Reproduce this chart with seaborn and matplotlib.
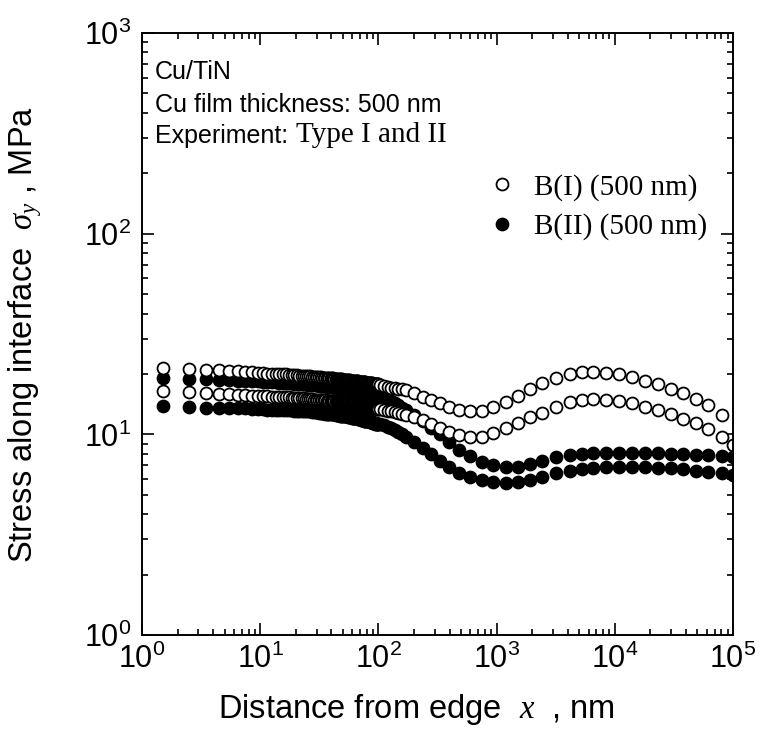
import numpy as np
import pandas as pd
import matplotlib
matplotlib.use("Agg")
import matplotlib.pyplot as plt
import seaborn as sns
from matplotlib.lines import Line2D
from matplotlib.ticker import LogLocator, LogFormatterSciNotation, NullFormatter

# ---------------- data ----------------
# distance from edge x (nm): fine 1 nm grid near the edge
x_fine = [1.5, 2.5, 3.5, 4.5, 5.5, 6.5, 7.5, 8.5, 9.5, 10.5,
          11.5, 12.5, 13.5, 14.5, 15.5, 16.5, 17.5, 18.5, 19.5, 20.5,
          21.5, 22.5, 23.5, 24.5, 25.5, 26.5, 27.5, 28.5, 29.5, 30.5,
          31.5, 32.5, 33.5, 34.5, 35.5, 36.5, 37.5, 38.5, 39.5, 40.5,
          41.5, 42.5, 43.5, 44.5, 45.5, 46.5, 47.5, 48.5, 49.5, 50.5,
          51.5, 52.5, 53.5, 54.5, 55.5, 56.5, 57.5, 58.5, 59.5, 60.5,
          61.5, 62.5, 63.5, 64.5, 65.5, 66.5, 67.5, 68.5, 69.5, 70.5,
          71.5, 72.5, 73.5, 74.5, 75.5, 76.5, 77.5, 78.5, 79.5, 80.5,
          81.5, 82.5, 83.5, 84.5, 85.5, 86.5, 87.5, 88.5, 89.5, 90.5,
          91.5, 92.5, 93.5, 94.5, 95.5, 96.5, 97.5, 98.5, 99.5]
# coarser grid further from the edge
x_far = [104, 112, 120, 129, 138, 148, 159, 171, 200, 238, 279, 332, 396, 481,
         596, 752, 933, 1200, 1520, 1920, 2420, 3160, 4170, 5250, 6610, 8510,
         10960, 14130, 18200, 23400, 30200, 38000, 49000, 61700, 81300, 100000]

# B(I) open circles, upper branch
bI_up_fine = [21.4, 21.2, 21.0, 20.9, 20.8, 20.6, 20.5, 20.4, 20.3, 20.2,
              20.1, 20.1, 20.0, 20.0, 19.9, 19.9, 19.8, 19.8, 19.7, 19.7,
              19.6, 19.6, 19.6, 19.5, 19.5, 19.5, 19.4, 19.4, 19.4, 19.3,
              19.3, 19.3, 19.2, 19.2, 19.2, 19.1, 19.1, 19.1, 19.0, 19.0,
              19.0, 18.9, 18.9, 18.9, 18.9, 18.8, 18.8, 18.8, 18.8, 18.7,
              18.7, 18.7, 18.7, 18.6, 18.6, 18.6, 18.6, 18.5, 18.5, 18.5,
              18.5, 18.5, 18.4, 18.4, 18.4, 18.4, 18.4, 18.3, 18.3, 18.3,
              18.3, 18.3, 18.2, 18.2, 18.2, 18.2, 18.2, 18.1, 18.1, 18.1,
              18.1, 18.1, 18.1, 18.0, 18.0, 18.0, 18.0, 18.0, 17.9, 17.9,
              17.9, 17.9, 17.9, 17.9, 17.8, 17.8, 17.8, 17.8, 17.8]
bI_up_far = [17.6, 17.4, 17.3, 17.1, 17.0, 16.9, 16.8, 16.6, 16.1, 15.3, 14.8,
             14.3, 13.7, 13.2, 13.1, 13.1, 13.7, 14.5, 15.5, 16.8, 18.0, 19.1,
             20.0, 20.4, 20.4, 20.2, 20.0, 19.3, 18.4, 17.8, 16.8, 16.1, 15.0,
             14.0, 12.5]

# B(I) open circles, lower branch
bI_lo_fine = [16.4, 16.2, 16.0, 15.9, 15.8, 15.7, 15.7, 15.6, 15.6, 15.5,
              15.5, 15.4, 15.4, 15.4, 15.3, 15.3, 15.3, 15.2, 15.2, 15.2,
              15.1, 15.1, 15.1, 15.0, 15.0, 15.0, 15.0, 14.9, 14.9, 14.9,
              14.9, 14.8, 14.8, 14.8, 14.8, 14.7, 14.7, 14.7, 14.7, 14.6,
              14.6, 14.6, 14.6, 14.5, 14.5, 14.5, 14.5, 14.4, 14.4, 14.4,
              14.4, 14.4, 14.3, 14.3, 14.3, 14.3, 14.2, 14.2, 14.2, 14.2,
              14.1, 14.1, 14.1, 14.1, 14.0, 14.0, 14.0, 14.0, 14.0, 13.9,
              13.9, 13.9, 13.9, 13.9, 13.8, 13.8, 13.8, 13.8, 13.8, 13.7,
              13.7, 13.7, 13.7, 13.7, 13.6, 13.6, 13.6, 13.6, 13.6, 13.6,
              13.5, 13.5, 13.5, 13.5, 13.5, 13.5, 13.4, 13.4, 13.4]
bI_lo_far = [13.4, 13.3, 13.1, 13.0, 12.9, 12.8, 12.7, 12.5, 12.2, 11.8, 11.3,
             10.7, 10.3, 9.9, 9.7, 9.7, 10.2, 10.7, 11.4, 12.2, 12.8, 13.7,
             14.5, 14.8, 15.0, 14.8, 14.7, 14.3, 13.7, 13.2, 12.6, 11.9, 11.4,
             10.6, 9.7, 8.8]

# B(II) filled circles, upper branch
bII_up_fine = [19.0, 18.9, 18.8, 18.7, 18.6, 18.5, 18.5, 18.4, 18.4, 18.3,
               18.3, 18.2, 18.2, 18.1, 18.1, 18.0, 18.0, 18.0, 17.9, 17.9,
               17.9, 17.8, 17.8, 17.8, 17.7, 17.7, 17.7, 17.6, 17.6, 17.6,
               17.5, 17.5, 17.5, 17.4, 17.4, 17.4, 17.3, 17.3, 17.3, 17.2,
               17.2, 17.2, 17.1, 17.1, 17.1, 17.0, 17.0, 17.0, 16.9, 16.9,
               16.9, 16.8, 16.8, 16.8, 16.7, 16.7, 16.7, 16.6, 16.6, 16.6,
               16.5, 16.5, 16.5, 16.4, 16.4, 16.4, 16.3, 16.3, 16.3, 16.2,
               16.2, 16.2, 16.2, 16.1, 16.1, 16.1, 16.0, 16.0, 16.0, 16.0,
               15.9, 15.9, 15.9, 15.9, 15.8, 15.8, 15.8, 15.8, 15.7, 15.7,
               15.7, 15.7, 15.7, 15.6, 15.6, 15.6, 15.6, 15.6, 15.6]
bII_up_far = [15.6, 15.3, 15.0, 14.7, 14.4, 14.0, 13.6, 13.2, 12.5, 11.6, 10.8,
              10.0, 9.2, 8.4, 7.8, 7.3, 7.0, 6.9, 6.9, 7.1, 7.4, 7.7, 7.9, 8.0,
              8.1, 8.1, 8.1, 8.1, 8.1, 8.1, 8.0, 8.0, 7.9, 7.9, 7.8, 7.7]

# B(II) filled circles, lower branch
bII_lo_fine = [13.8, 13.7, 13.6, 13.6, 13.5, 13.5, 13.5, 13.4, 13.4, 13.4,
               13.3, 13.3, 13.3, 13.3, 13.2, 13.2, 13.2, 13.2, 13.1, 13.1,
               13.1, 13.1, 13.0, 13.0, 13.0, 13.0, 12.9, 12.9, 12.9, 12.9,
               12.8, 12.8, 12.8, 12.8, 12.7, 12.7, 12.7, 12.7, 12.6, 12.6,
               12.6, 12.6, 12.5, 12.5, 12.5, 12.5, 12.4, 12.4, 12.4, 12.4,
               12.3, 12.3, 12.3, 12.3, 12.2, 12.2, 12.2, 12.2, 12.1, 12.1,
               12.1, 12.1, 12.0, 12.0, 12.0, 12.0, 11.9, 11.9, 11.9, 11.9,
               11.8, 11.8, 11.8, 11.8, 11.7, 11.7, 11.7, 11.7, 11.6, 11.6,
               11.6, 11.6, 11.6, 11.5, 11.5, 11.5, 11.5, 11.5, 11.4, 11.4,
               11.4, 11.4, 11.4, 11.3, 11.3, 11.3, 11.3, 11.3, 11.3]
bII_lo_far = [11.3, 11.1, 10.9, 10.7, 10.5, 10.3, 10.0, 9.7, 9.2, 8.6, 8.0,
              7.4, 6.9, 6.4, 6.1, 5.9, 5.8, 5.7, 5.8, 5.9, 6.1, 6.4, 6.6, 6.7,
              6.8, 6.9, 6.9, 6.9, 6.9, 6.8, 6.8, 6.7, 6.6, 6.5, 6.4, 6.3]

legend_labels = ["B(I) (500 nm)", "B(II) (500 nm)"]
note_lines = ["Cu/TiN", "Cu film thickness: 500 nm", "Experiment:"]
note_serif = "Type I and II"
x_ticks = [1e0, 1e1, 1e2, 1e3, 1e4, 1e5]
y_ticks = [1e0, 1e1, 1e2, 1e3]

# ---------------- tables ----------------
def frame(xs, ys):
    return pd.DataFrame({"x": xs, "y": ys})

df_bI_up = frame(x_fine + x_far[:len(bI_up_far)], bI_up_fine + bI_up_far)
df_bI_lo = frame(x_fine + x_far, bI_lo_fine + bI_lo_far)
df_bII_up = frame(x_fine + x_far, bII_up_fine + bII_up_far)
df_bII_lo = frame(x_fine + x_far, bII_lo_fine + bII_lo_far)

# ---------------- style ----------------
sns.set_theme(style="ticks")
plt.rcParams.update({
    "font.family": ["Liberation Sans", "DejaVu Sans"],
    "mathtext.fontset": "custom",
    "mathtext.rm": "Liberation Serif",
    "mathtext.it": "Liberation Serif:italic",
    "mathtext.bf": "Liberation Serif:bold",
    "axes.linewidth": 1.4,
    "axes.edgecolor": "black",
    "text.color": "black",
    "axes.labelcolor": "black",
    "xtick.color": "black",
    "ytick.color": "black",
})

fig = plt.figure(figsize=(7.6, 7.39), dpi=100)
ax = fig.add_axes([0.1868, 0.1407, 0.7776, 0.8146])

S = 74
LW = 1.3
sns.scatterplot(data=df_bII_lo, x="x", y="y", ax=ax, marker="o", s=S,
                color="black", edgecolor="black", linewidth=LW, legend=False)
sns.scatterplot(data=df_bII_up, x="x", y="y", ax=ax, marker="o", s=S,
                color="black", edgecolor="black", linewidth=LW, legend=False)
sns.scatterplot(data=df_bI_lo, x="x", y="y", ax=ax, marker="o", s=S,
                color="white", edgecolor="black", linewidth=LW, legend=False)
sns.scatterplot(data=df_bI_up, x="x", y="y", ax=ax, marker="o", s=S,
                color="white", edgecolor="black", linewidth=LW, legend=False)

ax.set_xscale("log")
ax.set_yscale("log")
ax.set_xlim(1, 1e5)
ax.set_ylim(1, 1e3)
ax.set_xticks(x_ticks)
ax.set_yticks(y_ticks)
ax.xaxis.set_major_formatter(LogFormatterSciNotation())
ax.yaxis.set_major_formatter(LogFormatterSciNotation())
ax.xaxis.set_minor_locator(LogLocator(base=10, subs=np.arange(2, 10), numticks=20))
ax.yaxis.set_minor_locator(LogLocator(base=10, subs=np.arange(2, 10), numticks=20))
ax.xaxis.set_minor_formatter(NullFormatter())
ax.yaxis.set_minor_formatter(NullFormatter())
ax.tick_params(which="both", direction="in", top=True, right=True, width=1.2)
ax.tick_params(which="major", length=8.5, labelsize=22)
ax.tick_params(which="minor", length=4.5)
ax.tick_params(axis="x", which="major", pad=6)
ax.tick_params(axis="y", which="major", pad=8)

ax.set_xlabel(r"Distance from edge  $x$  , nm", fontsize=23.5)
ax.set_ylabel(r"Stress along interface  $\sigma_y$ , MPa", fontsize=23.5)
ax.xaxis.set_label_coords(0.465, -0.095)
ax.yaxis.set_label_coords(-0.165, 0.5)

# notes, top-left
ax.text(0.022, 0.9236, note_lines[0], transform=ax.transAxes, fontsize=18,
        va="baseline", ha="left")
ax.text(0.022, 0.8688, note_lines[1], transform=ax.transAxes, fontsize=18,
        va="baseline", ha="left")
t3 = ax.text(0.022, 0.8173, note_lines[2], transform=ax.transAxes, fontsize=18,
             va="baseline", ha="left")
ax.annotate(note_serif, xy=(1.0, 0.0), xycoords=t3, xytext=(6, 0),
            textcoords="offset points", fontsize=21,
            family="Liberation Serif", va="bottom", ha="left")

# legend
handles = [
    Line2D([], [], linestyle="none", marker="o", markersize=8.6,
           markerfacecolor="white", markeredgecolor="black", markeredgewidth=LW),
    Line2D([], [], linestyle="none", marker="o", markersize=8.6,
           markerfacecolor="black", markeredgecolor="black", markeredgewidth=LW),
]
ax.legend(handles, legend_labels, loc="center left",
          bbox_to_anchor=(0.5846, 0.711), borderaxespad=0, borderpad=0,
          handlelength=1.0, handletextpad=0.6, labelspacing=0.42,
          frameon=False, prop={"family": "Liberation Serif", "size": 21})

fig.savefig("out.png", dpi=100)
